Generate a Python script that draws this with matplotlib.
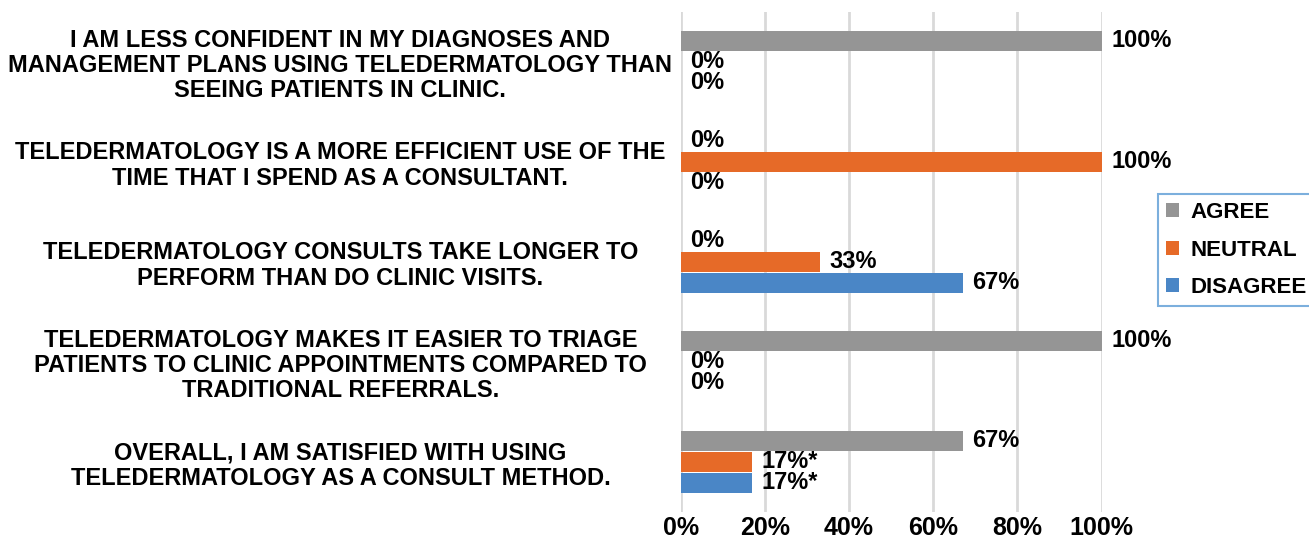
import numpy as np
import matplotlib
matplotlib.use("Agg")
import matplotlib.pyplot as plt

# statements, top to bottom as in the chart
statements = [
    "I AM LESS CONFIDENT IN MY DIAGNOSES AND\nMANAGEMENT PLANS USING TELEDERMATOLOGY THAN\nSEEING PATIENTS IN CLINIC.",
    "TELEDERMATOLOGY IS A MORE EFFICIENT USE OF THE\nTIME THAT I SPEND AS A CONSULTANT.",
    "TELEDERMATOLOGY CONSULTS TAKE LONGER TO\nPERFORM THAN DO CLINIC VISITS.",
    "TELEDERMATOLOGY MAKES IT EASIER TO TRIAGE\nPATIENTS TO CLINIC APPOINTMENTS COMPARED TO\nTRADITIONAL REFERRALS.",
    "OVERALL, I AM SATISFIED WITH USING\nTELEDERMATOLOGY AS A CONSULT METHOD.",
]
agree = [100, 0, 0, 100, 67]
neutral = [0, 100, 33, 0, 17]
disagree = [0, 0, 67, 0, 17]
# asterisk notes on the last statement's neutral / disagree values
agree_note = ["", "", "", "", ""]
neutral_note = ["", "", "", "", "*"]
disagree_note = ["", "", "", "", "*"]
ticks = [0, 20, 40, 60, 80, 100]

series = [("AGREE", agree, agree_note, "#959595"),
          ("NEUTRAL", neutral, neutral_note, "#E66A28"),
          ("DISAGREE", disagree, disagree_note, "#4A86C6")]

plt.rcParams["font.family"] = ["Liberation Sans", "DejaVu Sans"]
plt.rcParams["font.weight"] = "bold"

fig = plt.figure(figsize=(13.09, 5.42), dpi=100)
ax = fig.add_axes([0.520, 0.0554, 0.3216, 0.9226])

pos = np.arange(len(statements))[::-1]
step = 0.21
for k, (name, vals, notes, col) in enumerate(series):
    y = pos + (1 - k) * step
    ax.barh(y, vals, height=0.2, color=col, label=name, zorder=3)
    for yy, v, note in zip(y, vals, notes):
        ax.annotate(f"{v}%{note}", (v, yy), xytext=(7, 0),
                    textcoords="offset points", va="center", ha="left",
                    fontsize=17)

ax.set_xlim(0, 100)
ax.set_ylim(-0.5, 4.5)
ax.set_xticks(ticks, [f"{t}%" for t in ticks], fontsize=18)
ax.set_yticks(pos, statements, ha="center", fontsize=17, linespacing=1.13)
ax.tick_params(axis="y", length=0, pad=245)
ax.tick_params(axis="x", length=0, pad=3)
ax.grid(axis="x", color="#D9D9D9", linewidth=2, zorder=0)
for s in ax.spines.values():
    s.set_visible(False)

leg = fig.legend(loc="upper left", bbox_to_anchor=(0.876, 0.662),
                 frameon=True, fancybox=False, fontsize=16,
                 handlelength=0.6, handleheight=0.6, handletextpad=0.5,
                 labelspacing=0.74, borderpad=0.35)
leg.get_frame().set_edgecolor("#5B9BD5")
leg.get_frame().set_linewidth(1.5)

fig.savefig("out.png", dpi=100)
